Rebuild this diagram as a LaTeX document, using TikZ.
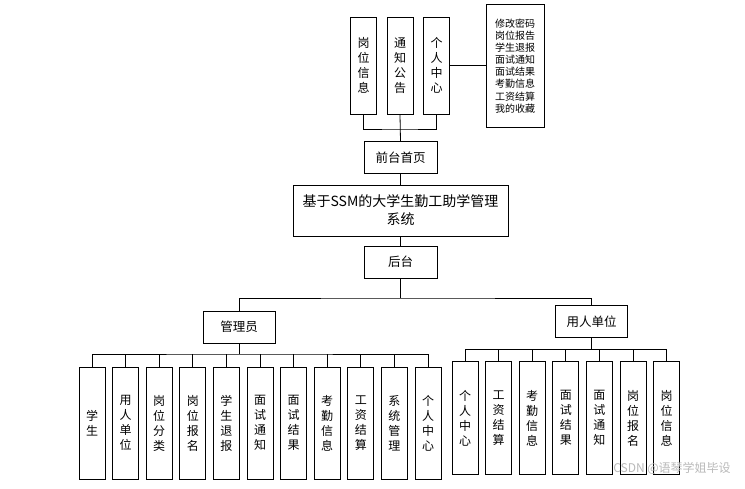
\documentclass[tikz,border=0pt]{standalone}
\usepackage{fontspec}
\setmainfont{Noto Sans CJK SC}
\begin{document}
\begin{tikzpicture}[x=1pt,y=-1pt,
  bx/.style={draw=black,line width=0.9pt,fill=white,inner sep=0pt,align=center},
  vleaf/.style={bx,minimum width=26pt,font={\fontsize{12}{15}\selectfont}},
  lbl/.style={bx,minimum width=73pt,minimum height=32pt,font={\fontsize{12.5}{15}\selectfont}},
  ln/.style={draw=black,line width=0.8pt}]
\useasboundingbox (0,0) rectangle (745,488);
% top group
\node[vleaf,minimum height=97pt] (t1) at (363.5,65.5) {岗\\位\\信\\息};
\node[vleaf,minimum height=97pt] (t2) at (400,65.5) {通\\知\\公\\告};
\node[vleaf,minimum height=97pt] (t3) at (436.5,65.5) {个\\人\\中\\心};
\node[bx,minimum width=58pt,minimum height=123pt,font={\fontsize{10}{12.1}\selectfont}] (rb) at (515,66) {修改密码\\岗位报告\\学生退报\\面试通知\\面试结果\\考勤信息\\工资结算\\我的收藏};
\coordinate (topbus) at (400,129);
\draw[ln] (t1.south) |- (topbus) -| (t3.south);
\node[lbl] (qt) at (400.5,157.5) {前台首页};
\draw[ln] (t2.south) -- (qt.north);
\draw[ln] (t3.east) -- (rb.west |- t3.east);
\node[bx,minimum width=215pt,minimum height=51pt,font={\fontsize{14}{18}\selectfont}] (title) at (400.5,210.5) {基于SSM的大学生勤工助学管理\\系统};
\node[lbl] (ht) at (400.5,262) {后台};
\draw[ln] (qt.south) -- (title.north);
\draw[ln] (title.south) -- (ht.north);
% second level
\node[lbl,minimum width=72pt] (gly) at (239,327) {管理员};
\node[lbl,minimum width=72pt] (yr) at (591.7,321.7) {用人单位};
\coordinate (bb) at (400.5,298);
\draw[ln] (ht.south) -- (bb);
\draw[ln] (gly.north) |- (bb) -| (yr.north);
% admin leaves
\foreach \t [count=\i from 0] in {学\\生,用\\人\\单\\位,岗\\位\\分\\类,岗\\位\\报\\名,学\\生\\退\\报,面\\试\\通\\知,面\\试\\结\\果,考\\勤\\信\\息,工\\资\\结\\算,系\\统\\管\\理,个\\人\\中\\心}{
  \node[vleaf,minimum height=112pt] (a\i) at ({92+33.6*\i},423) {\t};
}
\coordinate (abus) at (239,354);
\draw[ln] (gly.south) -- (abus);
\draw[ln] (a0.north) |- (abus) -| (a10.north);
\foreach \i in {1,...,9}{\draw[ln] (a\i.north) -- (a\i.north |- abus);}
% user leaves
\foreach \t [count=\i from 0] in {个\\人\\中\\心,工\\资\\结\\算,考\\勤\\信\\息,面\\试\\结\\果,面\\试\\通\\知,岗\\位\\报\\名,岗\\位\\信\\息}{
  \node[vleaf,minimum height=113pt] (u\i) at ({465+33.6*\i},418.3) {\t};
}
\coordinate (ubus) at (591.7,349.3);
\draw[ln] (yr.south) -- (ubus);
\draw[ln] (u0.north) |- (ubus) -| (u6.north);
\foreach \i in {1,...,5}{\draw[ln] (u\i.north) -- (u\i.north |- ubus);}
% watermark
\node[text=gray!55,font={\fontsize{12}{14}\selectfont},inner sep=0pt] (wm) at (672,468) {CSDN @语琴学姐毕设};
\end{tikzpicture}
\end{document}
